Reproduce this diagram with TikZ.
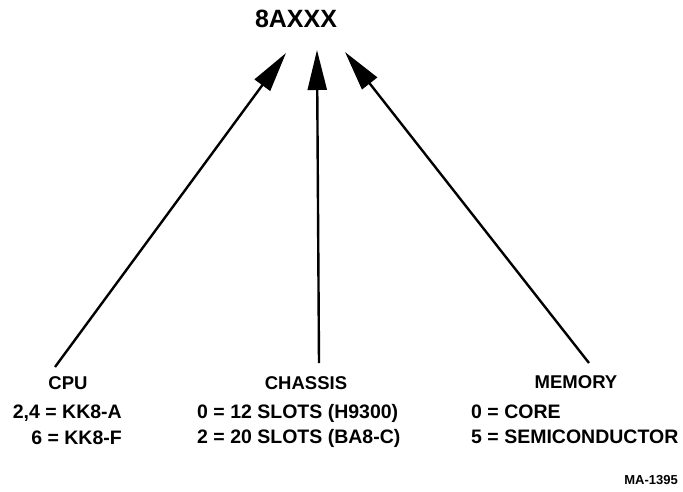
\documentclass[tikz,border=0pt]{standalone}
\usepackage{fontspec}
\setmainfont{Liberation Sans}
\usetikzlibrary{arrows.meta}
\begin{document}
\begin{tikzpicture}[x=1pt,y=-1pt,
  head/.style={font=\bfseries\fontsize{18.5}{20}\selectfont, inner sep=0pt},
  lbl/.style={font=\bfseries\fontsize{19.5}{22}\selectfont, inner sep=0pt},
  ptr/.style={line width=2.4pt, -{Triangle[length=40pt,width=19pt]}}]
\useasboundingbox (0,0) rectangle (683,491);
\node[font=\bfseries\fontsize{25}{28}\selectfont, inner sep=0pt] (title) at (296,19) {8AXXX};
\coordinate (tl) at (55,367);
\coordinate (tm) at (319,363);
\coordinate (tr) at (589,363);
\coordinate (hl) at (286,53);
\coordinate (hm) at (317,50);
\coordinate (hr) at (345,52);
\draw[ptr] (tl) -- (hl);
\draw[ptr] (tm) -- (hm);
\draw[ptr] (tr) -- (hr);
\node[head] (cpu) at (68,383) {CPU};
\node[head] (chassis) at (306,383) {CHASSIS};
\node[head] (memory) at (576,382) {MEMORY};
\node[lbl, anchor=east] (c1) at (122,413) {2,4 = KK8-A};
\node[lbl, anchor=east] (c2) at (122,438) {6 = KK8-F};
\node[lbl, anchor=west] (s1) at (197,413) {0 = 12 SLOTS (H9300)};
\node[lbl, anchor=west] (s2) at (197,438) {2 = 20 SLOTS (BA8-C)};
\node[lbl, anchor=west] (m1) at (471,412) {0 = CORE};
\node[lbl, anchor=west] (m2) at (471,437) {5 = SEMICONDUCTOR};
\node[font=\bfseries\fontsize{13}{15}\selectfont, inner sep=0pt, anchor=east] (ma) at (678,480) {MA-1395};
\end{tikzpicture}
\end{document}
